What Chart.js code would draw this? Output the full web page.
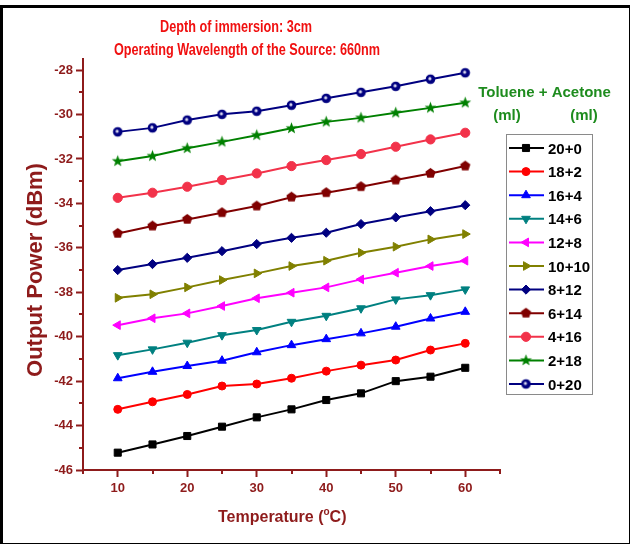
<!DOCTYPE html>
<html>
<head>
<meta charset="utf-8">
<script src="https://cdn.jsdelivr.net/npm/chart.js@4/dist/chart.umd.min.js"></script>
<style>
  html, body { margin: 0; padding: 0; background: #ffffff; overflow: hidden; }
  #wrap { position: relative; width: 630px; height: 545px; }
  #c { position: absolute; left: 0; top: 0; }
  #frame {
    position: absolute; left: 0; top: 5px; width: 626px; height: 535px;
    border-left: 3px solid #000; border-top: 3px solid #000;
    border-right: 1px solid #000; border-bottom: 1px solid #000;
    pointer-events: none;
  }
</style>
</head>
<body>
<div id="wrap">
  <canvas id="c" width="630" height="545"></canvas>
  <div id="frame"></div>
</div>
<script>
// Temperature sweep (°C) and the toluene + acetone mixtures (ml + ml)
const temperatures = [10, 15, 20, 25, 30, 35, 40, 45, 50, 55, 60];
const mixtures = ['20+0', '18+2', '16+4', '14+6', '12+8', '10+10', '8+12', '6+14', '4+16', '2+18', '0+20'];

// Output power (dBm) for each mixture
const power_20_0  = [-45.22, -44.85, -44.47, -44.05, -43.63, -43.27, -42.85, -42.55, -42.00, -41.80, -41.40];
const power_18_2  = [-43.27, -42.93, -42.60, -42.22, -42.13, -41.87, -41.55, -41.28, -41.05, -40.60, -40.30];
const power_16_4  = [-41.87, -41.58, -41.32, -41.08, -40.70, -40.38, -40.11, -39.85, -39.55, -39.18, -38.88];
const power_14_6  = [-40.83, -40.57, -40.27, -39.93, -39.70, -39.33, -39.06, -38.72, -38.32, -38.13, -37.87];
const power_12_8  = [-39.48, -39.17, -38.95, -38.62, -38.27, -38.02, -37.78, -37.42, -37.12, -36.82, -36.58];
const power_10_10 = [-38.25, -38.09, -37.78, -37.45, -37.15, -36.82, -36.58, -36.22, -35.95, -35.62, -35.38];
const power_8_12  = [-37.00, -36.73, -36.45, -36.15, -35.83, -35.55, -35.32, -34.93, -34.63, -34.35, -34.08];
const power_6_14  = [-35.35, -35.02, -34.72, -34.42, -34.12, -33.72, -33.52, -33.25, -32.95, -32.65, -32.32];
const power_4_16  = [-33.75, -33.52, -33.25, -32.95, -32.65, -32.32, -32.05, -31.78, -31.45, -31.12, -30.82];
const power_2_18  = [-32.10, -31.87, -31.52, -31.23, -30.93, -30.62, -30.33, -30.15, -29.92, -29.70, -29.47];
const power_0_20  = [-30.78, -30.60, -30.25, -29.99, -29.85, -29.58, -29.27, -29.00, -28.73, -28.41, -28.12];

// Axis ticks
const xMajorTicks = [10, 20, 30, 40, 50, 60];
const xMinorTicks = [5, 15, 25, 35, 45, 55, 65];
const yMajorTicks = [-46, -44, -42, -40, -38, -36, -34, -32, -30, -28];
const yMinorTicks = [-45, -43, -41, -39, -37, -35, -33, -31, -29];

const seriesValues = [power_20_0, power_18_2, power_16_4, power_14_6, power_12_8, power_10_10,
                      power_8_12, power_6_14, power_4_16, power_2_18, power_0_20];

const AXIS = '#8e1b1b';
const TEXT_FONT = '"Liberation Sans", Arial, sans-serif';

// Marker sprites for shapes Chart.js has no built-in style for
function sprite(size, paint) {
  const cv = document.createElement('canvas');
  cv.width = size; cv.height = size;
  const g = cv.getContext('2d');
  paint(g, size / 2);
  return cv;
}
function polygonPath(g, c, n, rOut, rIn) {
  g.beginPath();
  const steps = rIn ? n * 2 : n;
  for (let i = 0; i < steps; i++) {
    const r = rIn ? (i % 2 ? rIn : rOut) : rOut;
    const a = -Math.PI / 2 + i * Math.PI * 2 / steps;
    const px = c + r * Math.cos(a), py = c + r * Math.sin(a);
    i ? g.lineTo(px, py) : g.moveTo(px, py);
  }
  g.closePath();
}
const starSprite = sprite(15, (g, c) => {
  polygonPath(g, c, 5, 6.2, 2.6);
  g.fillStyle = '#008000'; g.fill();
});
const pentagonSprite = sprite(13, (g, c) => {
  polygonPath(g, c, 5, 5.4);
  g.fillStyle = '#800000'; g.fill();
});
const sphereSprite = sprite(13, (g, c) => {
  g.beginPath(); g.arc(c, c, 4.8, 0, Math.PI * 2);
  g.fillStyle = '#000080'; g.fill();
  g.beginPath(); g.arc(c - 0.6, c - 0.6, 1.6, 0, Math.PI * 2);
  g.fillStyle = '#d6d6ee'; g.fill();
});

const seriesLook = [
  { color: '#000000', pointStyle: 'rect',     radius: 5,   rotation: 0 },
  { color: '#ff0000', pointStyle: 'circle',   radius: 4,   rotation: 0 },
  { color: '#0000ff', pointStyle: 'triangle', radius: 5,   rotation: 0 },
  { color: '#008080', pointStyle: 'triangle', radius: 5,   rotation: 180 },
  { color: '#ff00ff', pointStyle: 'triangle', radius: 5,   rotation: -90 },
  { color: '#808000', pointStyle: 'triangle', radius: 5,   rotation: 90 },
  { color: '#000080', pointStyle: 'rectRot',  radius: 4.6, rotation: 0 },
  { color: '#800000', pointStyle: pentagonSprite, radius: 5, rotation: 0 },
  { color: '#f2324a', pointStyle: 'circle',   radius: 4.6, rotation: 0 },
  { color: '#008000', pointStyle: starSprite, radius: 5,   rotation: 0 },
  { color: '#000080', pointStyle: sphereSprite, radius: 5, rotation: 0 }
];

const datasets = mixtures.map((name, i) => ({
  label: name,
  data: temperatures.map((t, k) => ({ x: t, y: seriesValues[i][k] })),
  borderColor: seriesLook[i].color,
  backgroundColor: seriesLook[i].color,
  pointBackgroundColor: seriesLook[i].color,
  pointBorderColor: seriesLook[i].color,
  borderWidth: 2,
  pointStyle: seriesLook[i].pointStyle,
  pointRadius: seriesLook[i].radius,
  pointRotation: seriesLook[i].rotation,
  pointBorderWidth: 1,
  tension: 0,
  clip: false
}));

// Short minor tick marks on both axes
const minorTicks = {
  id: 'minorTicks',
  afterDraw(chart) {
    const { ctx, scales: { x, y }, chartArea } = chart;
    ctx.save();
    ctx.strokeStyle = AXIS;
    ctx.lineWidth = 2;
    ctx.beginPath();
    xMinorTicks.forEach(v => {
      const px = Math.round(x.getPixelForValue(v));
      ctx.moveTo(px, chartArea.bottom); ctx.lineTo(px, chartArea.bottom + 4);
    });
    yMinorTicks.forEach(v => {
      const py = Math.round(y.getPixelForValue(v));
      ctx.moveTo(chartArea.left, py); ctx.lineTo(chartArea.left - 4, py);
    });
    ctx.stroke();
    ctx.restore();
  }
};

// Condensed bold text, centred on cx
function narrowText(ctx, text, cx, y, squeeze) {
  ctx.save();
  ctx.translate(cx, y);
  ctx.scale(squeeze, 1);
  ctx.textAlign = 'center';
  ctx.fillText(text, 0, 0);
  ctx.restore();
}

// Titles, axis titles and the mixture legend
const annotations = {
  id: 'annotations',
  afterDraw(chart) {
    const ctx = chart.ctx;
    ctx.save();
    ctx.textBaseline = 'alphabetic';

    ctx.fillStyle = '#f01010';
    ctx.font = 'bold 17px ' + TEXT_FONT;
    narrowText(ctx, 'Depth of immersion: 3cm', 236, 31.5, 0.745);
    narrowText(ctx, 'Operating Wavelength of the Source: 660nm', 247, 55, 0.745);

    // y axis title
    ctx.fillStyle = AXIS;
    ctx.save();
    ctx.translate(42, 270);
    ctx.rotate(-Math.PI / 2);
    ctx.textAlign = 'center';
    ctx.font = 'bold 22px ' + TEXT_FONT;
    ctx.fillText('Output Power (dBm)', 0, 0);
    ctx.restore();

    // x axis title with raised "o"
    ctx.textAlign = 'left';
    ctx.font = 'bold 16px ' + TEXT_FONT;
    let tx = 218;
    const ty = 521.5;
    ctx.fillText('Temperature (', tx, ty);
    tx += ctx.measureText('Temperature (').width;
    ctx.font = 'bold 10px ' + TEXT_FONT;
    ctx.fillText('o', tx, ty - 7);
    tx += ctx.measureText('o').width;
    ctx.font = 'bold 16px ' + TEXT_FONT;
    ctx.fillText('C)', tx, ty);

    // legend heading
    ctx.fillStyle = '#1e8c1e';
    ctx.textAlign = 'center';
    ctx.font = 'bold 15px ' + TEXT_FONT;
    ctx.fillText('Toluene + Acetone', 544.5, 96.5);
    ctx.fillText('(ml)', 507, 120);
    ctx.fillText('(ml)', 584, 120);

    // legend box
    ctx.strokeStyle = '#8a8a8a';
    ctx.lineWidth = 1;
    ctx.strokeRect(506.5, 134.5, 86, 260);

    const firstY = 148;
    const step = 23.6;
    chart.data.datasets.forEach((ds, i) => {
      const cy = firstY + i * step;
      ctx.strokeStyle = ds.borderColor;
      ctx.lineWidth = 2;
      ctx.beginPath();
      ctx.moveTo(509, cy); ctx.lineTo(544, cy);
      ctx.stroke();
      ctx.fillStyle = ds.pointBackgroundColor;
      ctx.strokeStyle = ds.pointBorderColor;
      ctx.lineWidth = 1;
      Chart.helpers.drawPoint(ctx, {
        pointStyle: ds.pointStyle,
        radius: ds.pointRadius,
        rotation: ds.pointRotation,
        borderWidth: 1
      }, 526, cy);
      ctx.fillStyle = '#000';
      ctx.textAlign = 'left';
      ctx.font = 'bold 15px ' + TEXT_FONT;
      ctx.fillText(ds.label, 548, cy + 5.5);
    });
    ctx.restore();
  }
};

new Chart(document.getElementById('c'), {
  type: 'line',
  data: { datasets },
  options: {
    responsive: false,
    animation: false,
    devicePixelRatio: 1,
    layout: { padding: { top: 59, right: 130, left: 0, bottom: 0 } },
    plugins: { legend: { display: false }, tooltip: { enabled: false }, title: { display: false } },
    scales: {
      x: {
        type: 'linear',
        min: 5, max: 65,
        afterBuildTicks: s => { s.ticks = xMajorTicks.map(v => ({ value: v })); },
        afterFit: s => { s.height = 75; },
        ticks: {
          color: AXIS, padding: 4, maxRotation: 0, autoSkip: false,
          font: { family: TEXT_FONT, weight: 'bold', size: 13 }
        },
        grid: { display: true, drawOnChartArea: false, drawTicks: true, tickLength: 7, tickWidth: 2, color: AXIS },
        border: { display: true, color: AXIS, width: 2 }
      },
      y: {
        type: 'linear',
        min: -46, max: -27.5,
        afterBuildTicks: s => { s.ticks = yMajorTicks.map(v => ({ value: v })); },
        afterFit: s => { s.width = 83; },
        ticks: {
          color: AXIS, padding: 3, autoSkip: false,
          font: { family: TEXT_FONT, weight: 'bold', size: 13 }
        },
        grid: { display: true, drawOnChartArea: false, drawTicks: true, tickLength: 7, tickWidth: 2, color: AXIS },
        border: { display: true, color: AXIS, width: 2 }
      }
    }
  },
  plugins: [minorTicks, annotations]
});
</script>
</body>
</html>
